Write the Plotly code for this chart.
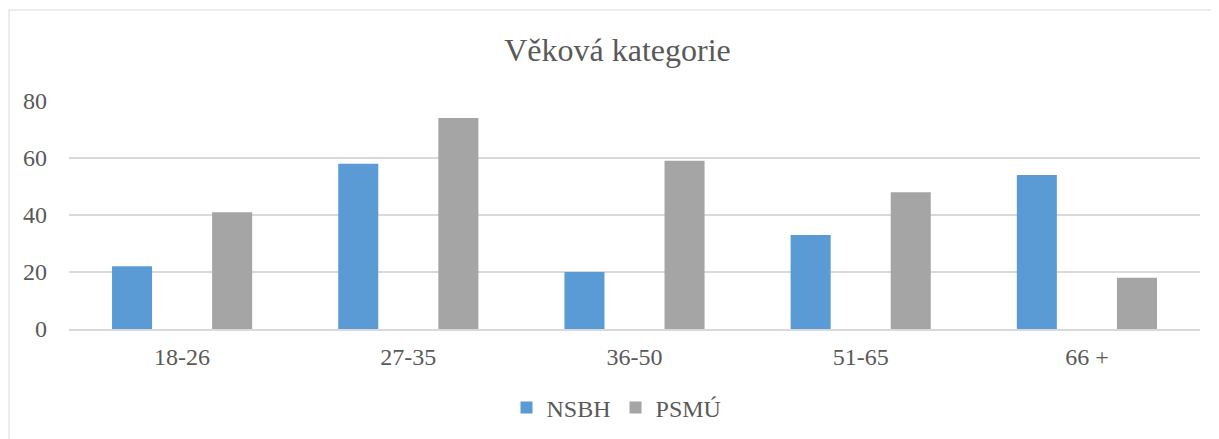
import plotly.graph_objects as go

categories = ["18-26", "27-35", "36-50", "51-65", "66 +"]
nsbh = [22, 58, 20, 33, 54]
psmu = [41, 74, 59, 48, 18]

W, H = 1219, 439
OFF = 8  # page body offset
L, R, T, B = 69 - OFF, 19 + OFF, 101 - OFF, 110 + OFF
pw, ph = W - L - R, H - T - B
bottom = H - B

font = "Liberation Serif"
tc = "#595959"

fig = go.Figure()
fig.add_trace(go.Bar(name="NSBH", x=categories, y=nsbh, marker=dict(color="#5B9BD5", line=dict(width=0))))
fig.add_trace(go.Bar(name="PSMÚ", x=categories, y=psmu, marker=dict(color="#A5A5A5", line=dict(width=0))))

fig.update_layout(
    width=W, height=H,
    margin=dict(l=L, r=R, t=T, b=B),
    paper_bgcolor="white", plot_bgcolor="white",
    barmode="group", bargap=0.115, bargroupgap=0.6,
    font=dict(family=font, color=tc, size=24),
    title=dict(text="Věková kategorie", x=0.5, xanchor="center", y=1 - (50 - OFF) / H, yanchor="middle",
               font=dict(family=font, size=32, color=tc)),
    xaxis=dict(showgrid=False, showline=True, linecolor="#D9D9D9", linewidth=1.5, ticks="",
               tickfont=dict(family=font, size=24, color=tc), ticklabelstandoff=5),
    yaxis=dict(range=[0, 80], tickvals=[0, 20, 40, 60, 80], showgrid=True, gridcolor="#D9D9D9",
               gridwidth=1.5, zeroline=False, showline=False, ticks="",
               tickfont=dict(family=font, size=24, color=tc), ticklabelstandoff=21),
    legend=dict(orientation="h", x=0.5 - 18 / pw, xanchor="center", y=-(408 - OFF - bottom) / ph,
                yanchor="middle", font=dict(family=font, size=24, color=tc), itemwidth=30,
                traceorder="normal"),
    showlegend=True,
)

fig.add_shape(type="rect", xref="paper", yref="paper",
              x0=(9 - OFF - L) / pw, x1=(1217 - OFF - L) / pw,
              y0=(bottom - 445) / ph, y1=(bottom - (10 - OFF)) / ph,
              line=dict(color="#D9D9D9", width=1), fillcolor="rgba(0,0,0,0)", layer="below")

fig.write_html("out.html")
